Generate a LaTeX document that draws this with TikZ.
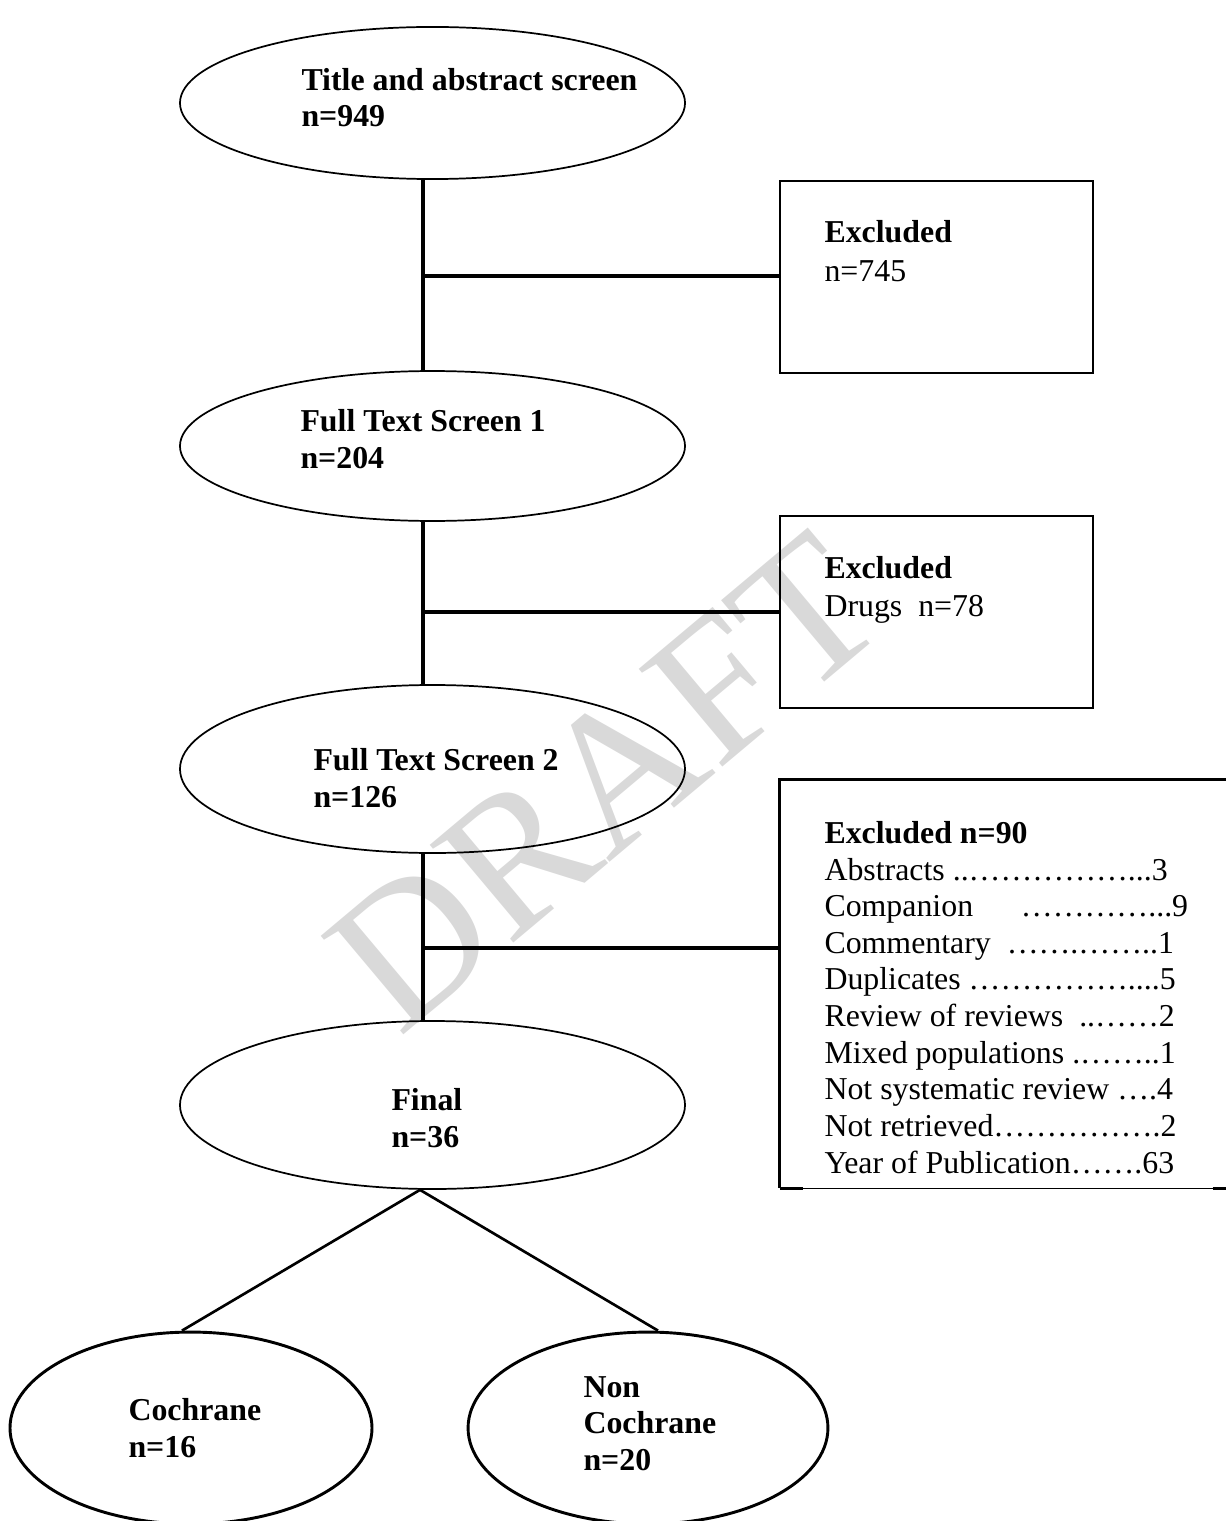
\documentclass[tikz,border=0pt]{standalone}
\usepackage{fontspec}
\setmainfont{Liberation Serif}
\usetikzlibrary{shapes.geometric,calc}
\definecolor{wmgray}{RGB}{217,217,217}
\begin{document}
\begin{tikzpicture}[x=0.3768pt,y=-0.3768pt,
  oval/.style={draw, ellipse, inner sep=0pt, line width=0.65pt},
  bigoval/.style={draw, ellipse, inner sep=0pt, line width=1.1pt},
  exbox/.style={draw, rectangle, inner sep=0pt, line width=0.85pt, minimum width=117.9pt, minimum height=72.3pt},
  conn/.style={line width=1.45pt},
  diag/.style={line width=1.0pt},
  btxt/.style={anchor=base west, inner sep=0pt, align=left, font=\fontsize{12}{13.6}\selectfont\bfseries},
  rtxt/.style={anchor=base west, inner sep=0pt, align=left, font=\fontsize{12}{13.8}\selectfont},
  watermark/.style={text=wmgray, inner sep=0pt, font=\fontsize{74}{74}\selectfont}
]
\useasboundingbox (0,0) rectangle (1225,1521);

% watermark
\node[watermark, rotate=40] (wm) at (605,782) {DRAFT};

% ellipses
\node[oval, minimum width=190.3pt, minimum height=57.3pt] (title) at (432.5,103) {};
\node[oval, minimum width=190.3pt, minimum height=56.5pt] (fts1) at (432.5,446) {};
\node[oval, minimum width=190.3pt, minimum height=63.3pt] (fts2) at (432.5,769) {};
\node[oval, minimum width=190.3pt, minimum height=63.3pt] (final) at (432.5,1105) {};
\node[bigoval, minimum width=136.4pt, minimum height=72.3pt] (coch) at (191,1428) {};
\node[bigoval, minimum width=135.6pt, minimum height=72.3pt] (noncoch) at (648,1428) {};

% ellipse texts (base anchor = baseline of the last line)
\node[btxt] (titlet) at (301,127) {Title and abstract screen\\n=949};
\node[btxt] (fts1t) at (300,468) {Full Text Screen 1\\n=204};
\node[btxt] (fts2t) at (313,807) {Full Text Screen 2\\n=126};
\node[btxt] (finalt) at (391,1147) {Final\\n=36};
\node[btxt] (cocht) at (128,1457) {Cochrane\\n=16};
\node[btxt] (noncocht) at (583,1470) {Non\\Cochrane\\n=20};

% excluded boxes
\node[exbox] (ex1) at (936.5,277) {};
\node[exbox] (ex2) at (936.5,612) {};
\node[btxt] (ex1a) at (824,243) {Excluded};
\node[rtxt] (ex1b) at (824,281) {n=745};
\node[btxt] (ex2a) at (824,578) {Excluded};
\node[rtxt] (ex2b) at (824,616) {Drugs~ n=78};

% third box (open at the right, cut by the page edge)
\node[inner sep=0pt, minimum width=173.3pt, minimum height=153.7pt] (ex3) at (1010,984) {};
\draw[line width=1.1pt] (ex3.north east) -- (ex3.north west) -- (ex3.south west);
\draw[line width=0.6pt] (ex3.south west) -- (ex3.south east);
\draw[line width=1.1pt] (ex3.south west) -- ++(23,0);
\draw[line width=1.1pt] ($(ex3.south west)+(433,0)$) -- (ex3.south east);
\node[btxt] (ex3a) at (824,843) {Excluded n=90};
\node[rtxt] (ex3b) at (824,1173) {Abstracts ..……………...3\\
Companion~ ~ ~ …………...9\\
Commentary~ …….……..1\\
Duplicates ……………....5\\
Review of reviews~ ..……2\\
Mixed populations .……..1\\
Not systematic review ….4\\
Not retrieved…………….2\\
Year of Publication…….63};

% connectors
\coordinate (spine) at (423,0);
\coordinate (j1) at (423,276);
\coordinate (j2) at (423,612);
\coordinate (j3) at (423,948);
\coordinate (apex) at (420,0);
\draw[conn] (title.south -| spine) -- (fts1.north -| spine);
\draw[conn] (fts1.south -| spine) -- (fts2.north -| spine);
\draw[conn] (fts2.south -| spine) -- (final.north -| spine);
\draw[conn] (j1) -- (j1 -| ex1.west);
\draw[conn] (j2) -- (j2 -| ex2.west);
\draw[conn] (j3) -- (j3 -| ex3.west);
\draw[diag] (final.south -| apex) -- ($(coch.north)+(-9,0)$);
\draw[diag] (final.south -| apex) -- ($(noncoch.north)+(10,0)$);
\end{tikzpicture}
\end{document}
